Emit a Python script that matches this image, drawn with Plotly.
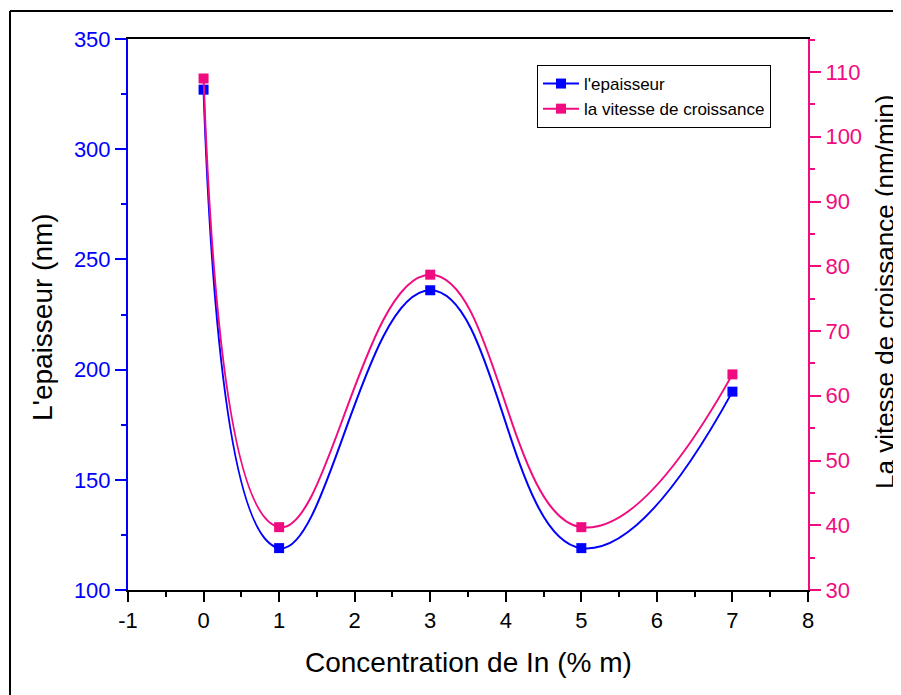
import plotly.graph_objects as go

# ---- data ----
concentration = [0, 1, 3, 5, 7]                    # % m of In
epaisseur = [327, 119, 236, 119, 190]              # nm (left axis)
vitesse = [109.0, 39.7, 78.7, 39.7, 63.3]          # nm/min (right axis)

x_ticks = [-1, 0, 1, 2, 3, 4, 5, 6, 7, 8]
left_ticks = [100, 150, 200, 250, 300, 350]
right_ticks = [30, 40, 50, 60, 70, 80, 90, 100, 110]

BLUE = "#0000FF"
PINK = "#F00C80"
FONT = "Liberation Sans, Arial, sans-serif"

OFF = 8                      # page body margin
W, H = 901 - OFF, 695 - OFF
L, R, T, B = 128, 808, 39, 590  # plot area in window pixels

def px_x(p):
    return (p - L) / (R - L)

def px_y(p):
    return (B - p) / (B - T)

fig = go.Figure()
fig.add_trace(go.Scatter(
    x=concentration, y=epaisseur, name="l'epaisseur",
    mode="lines+markers",
    line=dict(color=BLUE, width=2, shape="spline", smoothing=1.3),
    marker=dict(symbol="square", size=10, color=BLUE),
    yaxis="y",
))
fig.add_trace(go.Scatter(
    x=concentration, y=vitesse, name="la vitesse de croissance",
    mode="lines+markers",
    line=dict(color=PINK, width=2, shape="spline", smoothing=1.3),
    marker=dict(symbol="square", size=10, color=PINK),
    yaxis="y2",
))

fig.update_layout(
    width=W, height=H,
    margin=dict(l=L - OFF, r=901 - R, t=T - OFF, b=695 - B, autoexpand=False),
    paper_bgcolor="white", plot_bgcolor="white",
    font=dict(family=FONT, color="black"),
    showlegend=True,
    legend=dict(
        x=px_x(537), y=px_y(65), xanchor="left", yanchor="top",
        bgcolor="white", bordercolor="black", borderwidth=1,
        font=dict(size=17, family=FONT, color="black"),
        tracegroupgap=0, itemwidth=36,
    ),
    xaxis=dict(
        range=[-1, 8], tickvals=x_ticks, ticktext=[str(v) for v in x_ticks],
        showgrid=False, zeroline=False,
        showline=True, linecolor="black", linewidth=2, mirror=True,
        ticks="outside", ticklen=10, tickwidth=2, tickcolor="black",
        tickfont=dict(size=22, color="black"),
        minor=dict(dtick=0.5, ticks="outside", ticklen=5, tickwidth=2, tickcolor="black"),
    ),
    yaxis=dict(
        range=[100, 350], tickvals=left_ticks, ticktext=[str(v) for v in left_ticks],
        showgrid=False, zeroline=False,
        showline=True, linecolor=BLUE, linewidth=2,
        ticks="outside", ticklen=11, tickwidth=2, tickcolor=BLUE,
        tickfont=dict(size=22, color=BLUE),
        minor=dict(dtick=25, ticks="outside", ticklen=5, tickwidth=2, tickcolor=BLUE),
    ),
    yaxis2=dict(
        range=[30, 30 + (B - T) / 6.475], overlaying="y", side="right",
        tickvals=right_ticks, ticktext=[str(v) for v in right_ticks],
        showgrid=False, zeroline=False,
        showline=True, linecolor=PINK, linewidth=2,
        ticks="outside", ticklen=11, tickwidth=2, tickcolor=PINK,
        tickfont=dict(size=22, color=PINK),
        minor=dict(dtick=5, ticks="outside", ticklen=5, tickwidth=2, tickcolor=PINK),
    ),
    annotations=[
        dict(text="Concentration de In (% m)", x=px_x(468), y=px_y(662),
             xref="paper", yref="paper", showarrow=False,
             xanchor="center", yanchor="middle", font=dict(size=28, color="black")),
        dict(text="L'epaisseur (nm)", x=px_x(42), y=px_y(317),
             xref="paper", yref="paper", showarrow=False, textangle=-90,
             xanchor="center", yanchor="middle", font=dict(size=28, color="black")),
        dict(text="La vitesse de croissance (nm/min)", x=px_x(885), y=px_y(292),
             xref="paper", yref="paper", showarrow=False, textangle=-90,
             xanchor="center", yanchor="middle", font=dict(size=26, color="black")),
    ],
    shapes=[
        dict(type="line", xref="paper", yref="paper",
             x0=px_x(10), x1=px_x(905), y0=px_y(11), y1=px_y(11),
             line=dict(color="black", width=2)),
        dict(type="line", xref="paper", yref="paper",
             x0=px_x(10), x1=px_x(10), y0=px_y(11), y1=px_y(700),
             line=dict(color="black", width=2)),
    ],
)

fig.write_html("out.html")
